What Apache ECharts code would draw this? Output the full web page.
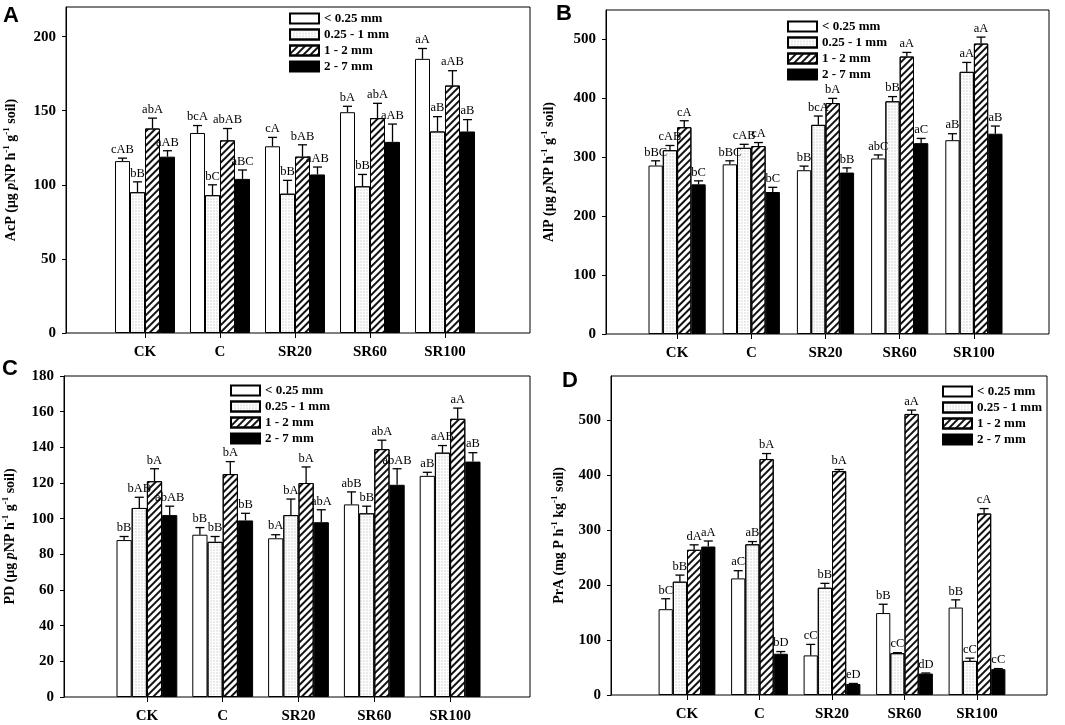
<!DOCTYPE html>
<html>
<head>
<meta charset="utf-8">
<script src="https://cdn.jsdelivr.net/npm/echarts@6/dist/echarts.min.js"></script>
<style>
html, body { margin: 0; padding: 0; background: #fff; }
#main { width: 1065px; height: 725px; }
</style>
</head>
<body>
<div id="main"></div>
<script>
var categories = ['CK', 'C', 'SR20', 'SR60', 'SR100'];
var sizes = ['< 0.25 mm', '0.25 - 1 mm', '1 - 2 mm', '2 - 7 mm'];

// A - AcP
var acpMean = [
    [116, 135, 126, 149, 185],
    [95, 93, 94, 99, 136],
    [138, 130, 119, 145, 167],
    [119, 104, 107, 129, 136]
];
var acpErr = [
    [2, 5, 6, 4, 7],
    [7, 7, 9, 8, 10],
    [7, 8, 8, 10, 10],
    [4, 6, 5, 12, 8]
];
var acpLetters = [
    ['cAB', 'bcA', 'cA', 'bA', 'aA'],
    ['bB', 'bC', 'bB', 'bB', 'aB'],
    ['abA', 'abAB', 'bAB', 'abA', 'aAB'],
    ['aAB', 'aBC', 'aAB', 'aAB', 'aB']
];
var acpTicks = [0, 50, 100, 150, 200];

// B - AlP
var alpMean = [
    [286, 288, 278, 298, 329],
    [312, 316, 355, 395, 445],
    [351, 319, 392, 471, 493],
    [254, 241, 274, 324, 340]
];
var alpErr = [
    [8, 6, 7, 6, 11],
    [8, 6, 15, 8, 16],
    [11, 6, 8, 7, 11],
    [6, 8, 8, 8, 13]
];
var alpLetters = [
    ['bBC', 'bBC', 'bB', 'abC', 'aB'],
    ['cAB', 'cAB', 'bcA', 'bB', 'aA'],
    ['cA', 'cA', 'bA', 'aA', 'aA'],
    ['bC', 'bC', 'bB', 'aC', 'aB']
];
var alpTicks = [0, 100, 200, 300, 400, 500];

// C - PD
var pdMean = [
    [88, 91, 89, 108, 124],
    [106, 87, 102, 103, 137],
    [121, 125, 120, 139, 156],
    [102, 99, 98, 119, 132]
];
var pdErr = [
    [2, 4, 2, 7, 2],
    [6, 3, 9, 4, 4],
    [7, 7, 9, 5, 6],
    [5, 4, 7, 9, 5]
];
var pdLetters = [
    ['bB', 'bB', 'bA', 'abB', 'aB'],
    ['bAB', 'bB', 'bA', 'bB', 'aAB'],
    ['bA', 'bA', 'bA', 'abA', 'aA'],
    ['abAB', 'bB', 'abA', 'abAB', 'aB']
];
var pdTicks = [0, 20, 40, 60, 80, 100, 120, 140, 160, 180];

// D - PrA
var praMean = [
    [156, 212, 72, 149, 159],
    [206, 274, 195, 76, 62],
    [264, 429, 407, 511, 330],
    [270, 75, 20, 39, 47]
];
var praErr = [
    [19, 14, 20, 16, 14],
    [12, 5, 8, 1, 5],
    [9, 10, 3, 7, 9],
    [10, 4, 1, 1, 1]
];
var praLetters = [
    ['bC', 'aC', 'cC', 'bB', 'bB'],
    ['bB', 'aB', 'bB', 'cC', 'cC'],
    ['dA', 'bA', 'bA', 'aA', 'cA'],
    ['aA', 'bD', 'eD', 'dD', 'cC']
];
var praTicks = [0, 100, 200, 300, 400, 500];

var SERIF = '"Liberation Serif", "Times New Roman", serif';

var panels = [
    { tag: 'A', mean: acpMean, err: acpErr, letters: acpLetters, ticks: acpTicks, max: 220,
      name: '{b|AcP (μg }{i|p}{b|NP h}{s|-1}{b| g}{s|-1}{b| soil)}',
      frame: [66, 7, 464, 326], bars: [107.5, 375], bw: 15, nameGap: 46,
      legend: [289, 12], letter: [3, 5] },
    { tag: 'B', mean: alpMean, err: alpErr, letters: alpLetters, ticks: alpTicks, max: 550,
      name: '{b|AlP (μg }{i|p}{b|NP h}{s|-1}{b| g}{s|-1}{b| soil)}',
      frame: [606, 10, 443, 324], bars: [640, 371], bw: 14.3, nameGap: 48,
      legend: [787, 20], letter: [556, 3] },
    { tag: 'C', mean: pdMean, err: pdErr, letters: pdLetters, ticks: pdTicks, max: 180,
      name: '{b|PD (μg }{i|p}{b|NP h}{s|-1}{b| g}{s|-1}{b| soil)}',
      frame: [63, 376, 467, 321], bars: [109, 379], bw: 15.2, nameGap: 45,
      legend: [230, 384], letter: [2, 358] },
    { tag: 'D', mean: praMean, err: praErr, letters: praLetters, ticks: praTicks, max: 580,
      name: '{b|PrA (mg P h}{s|-1}{b| kg}{s|-1}{b| soil)}',
      frame: [611, 376, 436, 319], bars: [650.75, 362.5], bw: 14.2, nameGap: 43,
      legend: [942, 385], letter: [562, 370] }
];

var barStyles = [
    { color: '#fff', borderColor: '#000', borderWidth: 1 },
    { color: '#fff', borderColor: '#000', borderWidth: 1,
      decal: { symbol: 'circle', symbolSize: 0.7, dashArrayX: [2, 1], dashArrayY: [2, 1], color: '#c4c4c4' } },
    { color: '#fff', borderColor: '#000', borderWidth: 1,
      decal: { symbol: 'rect', symbolSize: 1, dashArrayX: [1, 0], dashArrayY: [2, 3], rotation: -Math.PI / 4, color: '#111' } },
    { color: '#000', borderColor: '#000', borderWidth: 1 }
];

function makeErrRender(i, bw, letters) {
    return function (params, api) {
        var j = api.value(0), m = api.value(1), e = api.value(2);
        var p0 = api.coord([j, m]);
        var p1 = api.coord([j, m + e]);
        var x = p0[0] + (i - 1.5) * bw;
        return {
            type: 'group',
            children: [
                { type: 'line', shape: { x1: x, y1: p0[1], x2: x, y2: p1[1] }, style: { stroke: '#000', lineWidth: 1.3 } },
                { type: 'line', shape: { x1: x - 4.5, y1: p1[1], x2: x + 4.5, y2: p1[1] }, style: { stroke: '#000', lineWidth: 1.3 } },
                { type: 'text', x: x, y: p1[1] - 2,
                  style: { text: letters[i][params.dataIndex], align: 'center', verticalAlign: 'bottom',
                           fontFamily: SERIF, fontSize: 12.5, fill: '#000' } }
            ]
        };
    };
}

var grids = [], xAxes = [], yAxes = [], series = [], legends = [], graphics = [];

panels.forEach(function (p, k) {
    var gf = 2 * k, gb = 2 * k + 1;
    grids.push({ left: p.frame[0], top: p.frame[1], width: p.frame[2], height: p.frame[3],
                 show: true, borderColor: '#000', borderWidth: 1, backgroundColor: 'transparent' });
    grids.push({ left: p.bars[0], top: p.frame[1], width: p.bars[1], height: p.frame[3] });

    xAxes.push({ gridIndex: gf, type: 'value', min: 0, max: 1, show: false });
    xAxes.push({
        gridIndex: gb, type: 'category', data: categories,
        axisLine: { show: false },
        axisTick: { show: true, alignWithLabel: true, length: 5, lineStyle: { color: '#000' } },
        axisLabel: { color: '#000', fontFamily: SERIF, fontWeight: 'bold', fontSize: 15, margin: 12 }
    });

    yAxes.push({
        gridIndex: gf, type: 'value', min: 0, max: p.max,
        axisLine: { show: true, lineStyle: { color: '#000' } },
        axisTick: { show: true, inside: false, length: 4, customValues: p.ticks, lineStyle: { color: '#000' } },
        axisLabel: { customValues: p.ticks, color: '#000', fontFamily: SERIF, fontWeight: 'bold', fontSize: 15, margin: 10 },
        splitLine: { show: false },
        name: p.name, nameLocation: 'middle', nameGap: p.nameGap,
        nameTextStyle: {
            color: '#000',
            rich: {
                b: { fontFamily: SERIF, fontWeight: 'bold', fontSize: 14, lineHeight: 18, color: '#000' },
                i: { fontFamily: SERIF, fontWeight: 'bold', fontStyle: 'italic', fontSize: 14, lineHeight: 18, color: '#000' },
                s: { fontFamily: SERIF, fontWeight: 'bold', fontSize: 9, lineHeight: 10, verticalAlign: 'top', color: '#000' }
            }
        }
    });
    yAxes.push({ gridIndex: gb, type: 'value', min: 0, max: p.max, show: false });

    sizes.forEach(function (s, i) {
        series.push({
            name: s, type: 'bar', xAxisIndex: gb, yAxisIndex: gb,
            barWidth: p.bw, barGap: '0%',
            itemStyle: barStyles[i],
            emphasis: { disabled: true },
            data: p.mean[i]
        });
    });
    sizes.forEach(function (s, i) {
        series.push({
            type: 'custom', xAxisIndex: gb, yAxisIndex: gb, z: 5, silent: true,
            renderItem: makeErrRender(i, p.bw, p.letters),
            data: p.mean[i].map(function (v, j) { return [j, v, p.err[i][j]]; })
        });
    });

    legends.push({
        data: sizes, orient: 'vertical', left: p.legend[0], top: p.legend[1], padding: 0,
        itemWidth: 29, itemHeight: 10, itemGap: 3, selectedMode: false, icon: 'rect',
        textStyle: { color: '#000', fontFamily: SERIF, fontWeight: 'bold', fontSize: 13 }
    });

    graphics.push({
        type: 'text', left: p.letter[0], top: p.letter[1],
        style: { text: p.tag, fontFamily: '"Liberation Sans", Arial, sans-serif', fontWeight: 'bold', fontSize: 22, fill: '#000' }
    });
});

var myChart = echarts.init(document.getElementById('main'));
var option = {
    backgroundColor: '#fff',
    animation: false,
    grid: grids,
    xAxis: xAxes,
    yAxis: yAxes,
    legend: legends,
    graphic: graphics,
    series: series
};
myChart.setOption(option);
</script>
</body>
</html>
